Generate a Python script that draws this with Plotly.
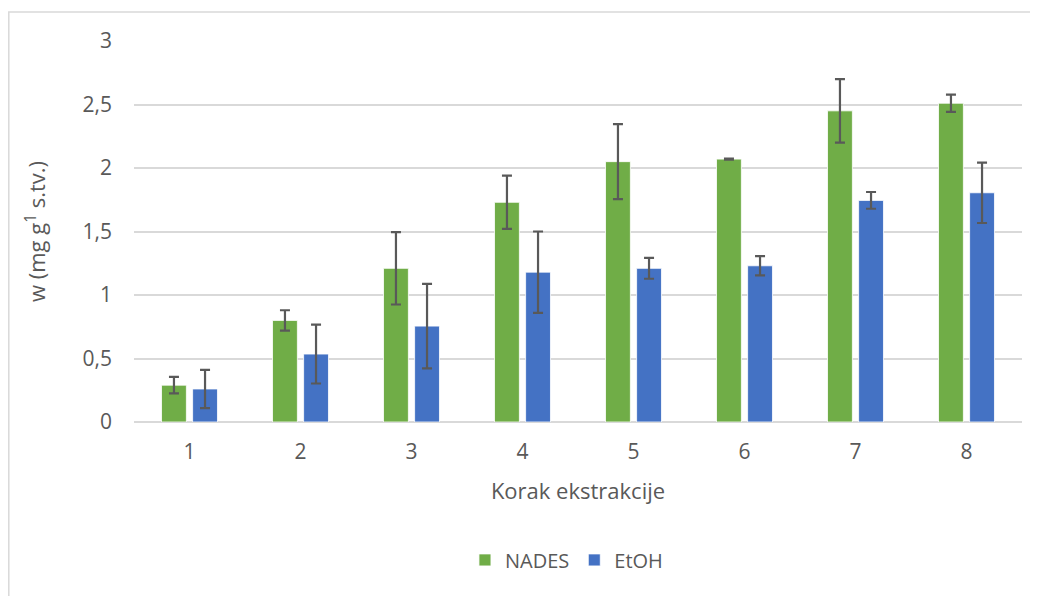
import plotly.graph_objects as go

steps = ["1", "2", "3", "4", "5", "6", "7", "8"]
nades = [0.29, 0.80, 1.21, 1.73, 2.05, 2.07, 2.45, 2.51]
nades_err = [0.065, 0.08, 0.285, 0.21, 0.295, 0.005, 0.25, 0.068]
etoh = [0.26, 0.535, 0.755, 1.18, 1.21, 1.23, 1.745, 1.805]
etoh_err = [0.15, 0.232, 0.333, 0.32, 0.082, 0.076, 0.066, 0.238]

font_family = "Open Sans, Liberation Sans, sans-serif"
text_color = "#595959"
err_style = dict(type="data", visible=True, thickness=2.2, width=5, color="#595959")

fig = go.Figure()
fig.add_trace(go.Bar(
    x=steps, y=nades, name="NADES",
    marker=dict(color="#70AD47", line=dict(color="#FFFFFF", width=0.8)),
    error_y=dict(array=nades_err, **err_style),
))
fig.add_trace(go.Bar(
    x=steps, y=etoh, name="EtOH",
    marker=dict(color="#4472C4", line=dict(color="#FFFFFF", width=0.8)),
    error_y=dict(array=etoh_err, **err_style),
))

PLOT_W, PLOT_H = 888, 381
L, T, R, B = 126, 33, 16, 174

fig.update_layout(
    width=L + PLOT_W + R, height=T + PLOT_H + B,
    margin=dict(l=L, r=R, t=T, b=B),
    paper_bgcolor="white", plot_bgcolor="white",
    barmode="group", bargap=0.44, bargroupgap=0.2,
    separators=", ",
    font=dict(family=font_family, color=text_color, size=20),
    showlegend=True,
    legend=dict(orientation="h", x=0.487, xanchor="center", y=-0.362, yanchor="middle",
                font=dict(size=20, color=text_color), itemwidth=30, traceorder="normal"),
    xaxis=dict(
        type="category", showgrid=False, showline=False, zeroline=False,
        ticks="", ticklabelstandoff=15,
        tickfont=dict(size=21, color=text_color),
        title=dict(text="Korak ekstrakcije", standoff=19, font=dict(size=22, color=text_color)),
    ),
    yaxis=dict(
        range=[0, 3], dtick=0.5, tick0=0,
        showgrid=True, gridcolor="#D9D9D9", gridwidth=1.5,
        zeroline=True, zerolinecolor="#D9D9D9", zerolinewidth=1.5,
        showline=False, ticks="", ticklabelstandoff=21,
        tickfont=dict(size=21, color=text_color),
        title=dict(text="w (mg g<sup>1</sup> s.tv.)", standoff=30, font=dict(size=22, color=text_color)),
    ),
)

# outer chart frame (left and top edges visible in the reference)
fig.add_shape(type="rect", xref="paper", yref="paper",
              x0=(-L + 0.8) / PLOT_W, y0=-0.6, x1=1.2, y1=(PLOT_H + T - 4) / PLOT_H,
              line=dict(color="#D9D9D9", width=1.5), layer="below")

fig.write_html("out.html")
